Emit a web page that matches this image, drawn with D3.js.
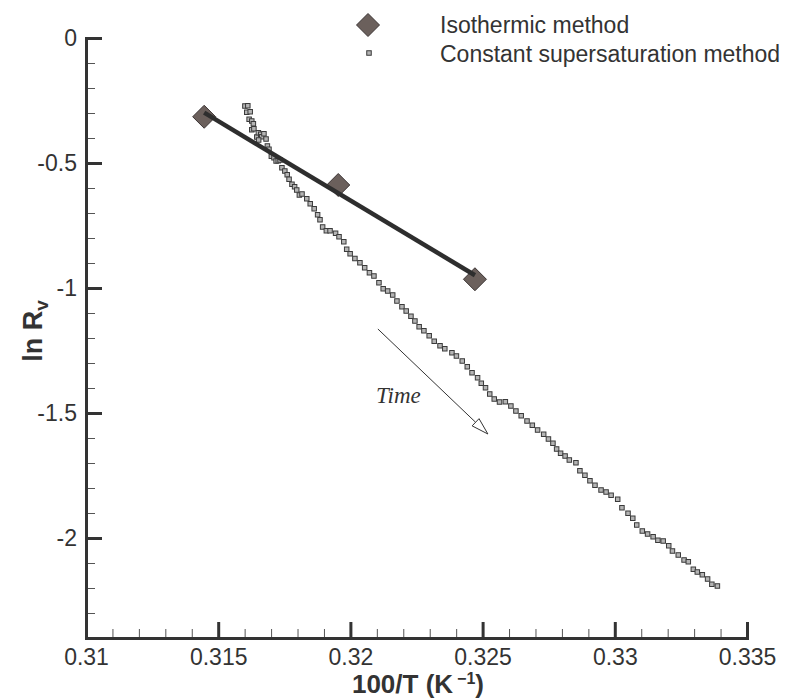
<!DOCTYPE html>
<html>
<head>
<meta charset="utf-8">
<script src="https://cdn.jsdelivr.net/npm/d3@7"></script>
<style>
  body { margin: 0; background: #fff; }
  svg { display: block; }
</style>
</head>
<body>
<svg id="chart" width="789" height="699"></svg>
<script>
// Isothermic method: ln Rv at three temperatures
const isoX = [0.31447, 0.31954, 0.32471];
const isoY = [-0.315, -0.588, -0.965];

// Constant supersaturation method: continuous record (time increases with 100/T)
const csX = [
  0.31601, 0.31612, 0.31608, 0.31621, 0.31617, 0.31627, 0.31633, 0.31627, 0.31635, 0.31646,
  0.31652, 0.31661, 0.31665, 0.31673, 0.31653, 0.31681, 0.31686, 0.31692, 0.31701, 0.31711,
  0.31719, 0.31727, 0.31734, 0.31741, 0.31752, 0.31761, 0.31768, 0.31779, 0.31789, 0.31797,
  0.31807, 0.31817, 0.31835, 0.31848, 0.31863, 0.31876, 0.31885, 0.31895, 0.31909, 0.31923,
  0.31944, 0.31957, 0.31975, 0.31986, 0.31999, 0.32017, 0.32036, 0.32054, 0.32072, 0.32089,
  0.32108, 0.32124, 0.32141, 0.32160, 0.32176, 0.32195, 0.32211, 0.32229, 0.32244, 0.32260,
  0.32278, 0.32298, 0.32317, 0.32339, 0.32357, 0.32384, 0.32401, 0.32423, 0.32442, 0.32460,
  0.32481, 0.32495, 0.32511, 0.32527, 0.32544, 0.32564, 0.32586, 0.32607, 0.32626, 0.32646,
  0.32668, 0.32688, 0.32708, 0.32731, 0.32749, 0.32766, 0.32780, 0.32795, 0.32812, 0.32828,
  0.32853, 0.32868, 0.32887, 0.32906, 0.32925, 0.32948, 0.32967, 0.32986, 0.33011, 0.33027,
  0.33050, 0.33068, 0.33083, 0.33104, 0.33124, 0.33145, 0.33163, 0.33183, 0.33204, 0.33218,
  0.33240, 0.33262, 0.33278, 0.33297, 0.33312, 0.33331, 0.33351, 0.33367, 0.33388
];
const csY = [
  -0.272, -0.271, -0.297, -0.295, -0.325, -0.332, -0.343, -0.367, -0.363, -0.396,
  -0.379, -0.385, -0.395, -0.383, -0.408, -0.404, -0.432, -0.445, -0.473, -0.479,
  -0.492, -0.491, -0.488, -0.519, -0.532, -0.547, -0.565, -0.585, -0.595, -0.608,
  -0.628, -0.624, -0.643, -0.663, -0.683, -0.707, -0.727, -0.756, -0.771, -0.771,
  -0.781, -0.795, -0.815, -0.845, -0.863, -0.882, -0.899, -0.919, -0.939, -0.952,
  -0.979, -1.003, -1.012, -1.028, -1.052, -1.075, -1.092, -1.113, -1.132, -1.155,
  -1.171, -1.191, -1.213, -1.231, -1.243, -1.259, -1.272, -1.292, -1.315, -1.339,
  -1.359, -1.381, -1.399, -1.424, -1.444, -1.456, -1.455, -1.472, -1.492, -1.511,
  -1.532, -1.549, -1.568, -1.585, -1.604, -1.621, -1.644, -1.661, -1.672, -1.688,
  -1.699, -1.731, -1.749, -1.771, -1.789, -1.808, -1.816, -1.829, -1.845, -1.879,
  -1.901, -1.921, -1.948, -1.972, -1.984, -1.995, -2.009, -2.012, -2.031, -2.052,
  -2.068, -2.088, -2.095, -2.125, -2.136, -2.147, -2.164, -2.185, -2.192
];

// Axis ticks
const xMajorTicks = [0.31, 0.315, 0.32, 0.325, 0.33, 0.335];
const yMajorTicks = [0, -0.5, -1, -1.5, -2];
const xMinorStep = 0.001;
const yMinorStep = 0.1;

// Legend entries
const legendLabels = ["Isothermic method", "Constant supersaturation method"];

// Time annotation arrow (start / end in data units) and its label anchor
const timeArrowX = [0.32104, 0.32520];
const timeArrowY = [-1.164, -1.584];
const timeLabel = "Time";
const timeLabelAt = [0.32097, -1.46];

const svg = d3.select("#chart");
const FONT = "'Liberation Sans', Arial, Helvetica, sans-serif";
const INK = "#333";

const x = d3.scaleLinear().domain([0.31, 0.335]).range([86, 747]);
const y = d3.scaleLinear().domain([-2.4, 0]).range([638, 38]);

const xMinor = d3.range(0, 26).map(i => +(0.31 + i * xMinorStep).toFixed(3))
  .filter(v => !xMajorTicks.some(m => Math.abs(m - v) < 1e-9));
const yMinor = d3.range(0, 25).map(i => +(-i * yMinorStep).toFixed(1))
  .filter(v => !yMajorTicks.some(m => Math.abs(m - v) < 1e-9) && v > -2.4);

// ---- axes ----
function styleMinor(g) {
  g.select(".domain").remove();
  g.selectAll(".tick line").attr("stroke", "#555").attr("stroke-width", 1);
}
function styleMajor(g) {
  g.select(".domain").attr("stroke", INK).attr("stroke-width", 3).attr("stroke-linecap", "square");
  g.selectAll(".tick line").attr("stroke", INK).attr("stroke-width", 3);
  g.selectAll(".tick text").attr("fill", INK).style("font-family", FONT).style("font-size", "23px");
}

const gx = svg.append("g").attr("transform", "translate(0,638)");
gx.append("g").call(d3.axisBottom(x).tickValues(xMinor).tickSize(-9).tickSizeOuter(0).tickFormat(""))
  .call(styleMinor);
gx.append("g").call(d3.axisBottom(x).tickValues(xMajorTicks).tickSize(-16).tickSizeOuter(0).tickPadding(11)
  .tickFormat(d => String(+d.toFixed(3))))
  .call(styleMajor);

const gy = svg.append("g").attr("transform", "translate(86,0)");
gy.append("g").call(d3.axisLeft(y).tickValues(yMinor).tickSize(-9).tickSizeOuter(0).tickFormat(""))
  .call(styleMinor);
gy.append("g").call(d3.axisLeft(y).tickValues(yMajorTicks).tickSize(-16).tickSizeOuter(0).tickPadding(9)
  .tickFormat(d => String(+d.toFixed(2))))
  .call(styleMajor);
svg.selectAll(".domain").attr("fill", "none");

// ---- axis titles ----
const xt = svg.append("text")
  .attr("x", 418).attr("y", 693)
  .attr("text-anchor", "middle")
  .attr("fill", INK)
  .style("font-family", FONT).style("font-size", "26px").style("font-weight", "bold");
xt.append("tspan").text("100/T (K");
xt.append("tspan").attr("dx", 4).attr("dy", -9).style("font-size", "16px").text("\u22121");
xt.append("tspan").attr("dy", 9).text(")");

const yt = svg.append("text")
  .attr("transform", "translate(42,331) rotate(-90)")
  .attr("text-anchor", "middle")
  .attr("fill", INK)
  .style("font-family", FONT).style("font-size", "27px").style("font-weight", "bold");
yt.append("tspan").text("ln R");
yt.append("tspan").attr("dy", 6).style("font-size", "19px").text("v");

// ---- constant supersaturation points ----
const csData = csX.map((v, i) => ({ x: v, y: csY[i] }));
const SQ = 4.5;
svg.append("g").selectAll("rect")
  .data(csData).join("rect")
  .attr("x", d => x(d.x) - SQ / 2).attr("y", d => y(d.y) - SQ / 2)
  .attr("width", SQ).attr("height", SQ)
  .attr("fill", "#b4b4b4").attr("stroke", "#3a3a3a").attr("stroke-width", 1);

// ---- isothermic points ----
const diamond = "M0,-11.5L11.5,0L0,11.5L-11.5,0Z";
const isoData = isoX.map((v, i) => ({ x: v, y: isoY[i] }));
svg.append("g").selectAll("path")
  .data(isoData).join("path")
  .attr("d", diamond)
  .attr("transform", d => `translate(${x(d.x)},${y(d.y)})`)
  .attr("fill", "#6b605c").attr("stroke", "#3b3434").attr("stroke-width", 1);

// least-squares fit of the isothermic points
const mx = d3.mean(isoX), my = d3.mean(isoY);
const slope = d3.sum(isoX, (v, i) => (v - mx) * (isoY[i] - my)) / d3.sum(isoX, v => (v - mx) ** 2);
const icpt = my - slope * mx;
const fitEnds = [d3.min(isoX), d3.max(isoX)].map(v => ({ x: v, y: icpt + slope * v }));
svg.append("path")
  .datum(fitEnds)
  .attr("d", d3.line().x(d => x(d.x)).y(d => y(d.y)))
  .attr("fill", "none").attr("stroke", "#2e2e2e").attr("stroke-width", 4.5);

// ---- time arrow ----
const ax0 = x(timeArrowX[0]), ay0 = y(timeArrowY[0]);
const ax1 = x(timeArrowX[1]), ay1 = y(timeArrowY[1]);
const ang = Math.atan2(ay1 - ay0, ax1 - ax0);
const headLen = 17, headHalf = 5;
const bx = ax1 - headLen * Math.cos(ang), by = ay1 - headLen * Math.sin(ang);
svg.append("line")
  .attr("x1", ax0).attr("y1", ay0).attr("x2", bx).attr("y2", by)
  .attr("stroke", INK).attr("stroke-width", 1);
svg.append("polygon")
  .attr("points", [
    [ax1, ay1],
    [bx - headHalf * Math.sin(ang), by + headHalf * Math.cos(ang)],
    [bx + headHalf * Math.sin(ang), by - headHalf * Math.cos(ang)]
  ].map(p => p.join(",")).join(" "))
  .attr("fill", "#fff").attr("stroke", INK).attr("stroke-width", 1);

svg.append("text")
  .attr("x", x(timeLabelAt[0])).attr("y", y(timeLabelAt[1]))
  .attr("fill", INK)
  .style("font-family", "'Liberation Serif', 'Times New Roman', serif")
  .style("font-style", "italic").style("font-size", "23px")
  .text(timeLabel);

// ---- legend ----
const lg = svg.append("g");
lg.append("path").attr("d", diamond).attr("transform", "translate(368,25)")
  .attr("fill", "#6b605c").attr("stroke", "#3b3434").attr("stroke-width", 1);
lg.append("rect").attr("x", 369 - SQ / 2).attr("y", 53 - SQ / 2).attr("width", SQ).attr("height", SQ)
  .attr("fill", "#b4b4b4").attr("stroke", "#3a3a3a").attr("stroke-width", 1);
lg.selectAll("text").data(legendLabels).join("text")
  .attr("x", 440).attr("y", (d, i) => 33 + i * 28.5)
  .attr("fill", INK)
  .style("font-family", FONT).style("font-size", "23px")
  .text(d => d);
</script>
</body>
</html>
